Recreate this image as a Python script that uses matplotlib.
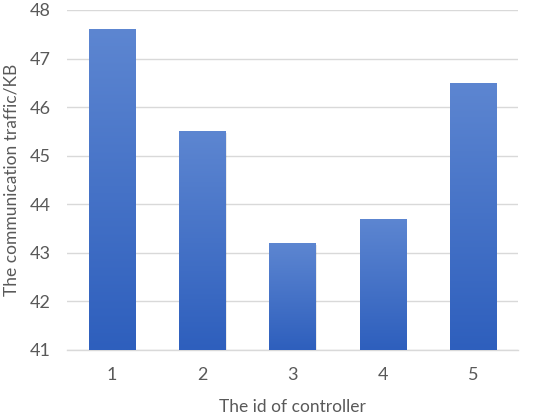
import numpy as np
import matplotlib
matplotlib.use("Agg")
import matplotlib.pyplot as plt
from matplotlib.colors import LinearSegmentedColormap

controllers = ["1", "2", "3", "4", "5"]
traffic = [47.6, 45.5, 43.2, 43.7, 46.5]
yticks = [41, 42, 43, 44, 45, 46, 47, 48]

plt.rcParams['font.family'] = ['Lato', 'DejaVu Sans']

fig = plt.figure(figsize=(5.5, 4.18), dpi=100)
ax = fig.add_axes([67 / 550, 1 - 350 / 418, (518 - 67) / 550, 340 / 418])

grad = LinearSegmentedColormap.from_list("bar", ["#2e5fbd", "#5d86d1"])
x = np.arange(len(controllers))
width = 0.51
bars = ax.bar(x, traffic, width=width, bottom=0, color="none", zorder=3)

# vertical gradient inside each bar, lighter at the top
img = np.linspace(0, 1, 256).reshape(-1, 1)
for b, v in zip(bars, traffic):
    x0 = b.get_x()
    # soft shadow
    ax.bar(x0 + width / 2 + 0.015, v - 41, width=width, bottom=41 - 0.03,
           color="#000000", alpha=0.08, zorder=2)
    im = ax.imshow(img, cmap=grad, aspect="auto", origin="lower",
                   extent=[x0, x0 + width, 41, v], zorder=3)
    im.set_clip_path(b)

ax.set_xlim(-0.5, len(controllers) - 0.5)
ax.set_ylim(41, 48)
ax.set_yticks(yticks)
ax.set_xticks(x)
ax.set_xticklabels(controllers)
ax.grid(axis="y", color="#d9d9d9", linewidth=1, zorder=0)
ax.set_axisbelow(True)
for s in ["top", "right", "left"]:
    ax.spines[s].set_visible(False)
ax.spines["bottom"].set_color("#d9d9d9")
ax.spines["bottom"].set_linewidth(1)
ax.tick_params(axis="both", length=0, labelsize=13, colors="#595959")
ax.tick_params(axis="x", pad=12)
ax.tick_params(axis="y", pad=12)

ax.set_xlabel("The id of controller", fontsize=12.5, color="#595959", va="center")
ax.xaxis.set_label_coords(0.5, -0.168)
ax.set_ylabel("The communication traffic/KB", fontsize=12.5, color="#595959", va="center")
ax.yaxis.set_label_coords(-0.122, 0.5)

fig.savefig("out.png", dpi=100)
